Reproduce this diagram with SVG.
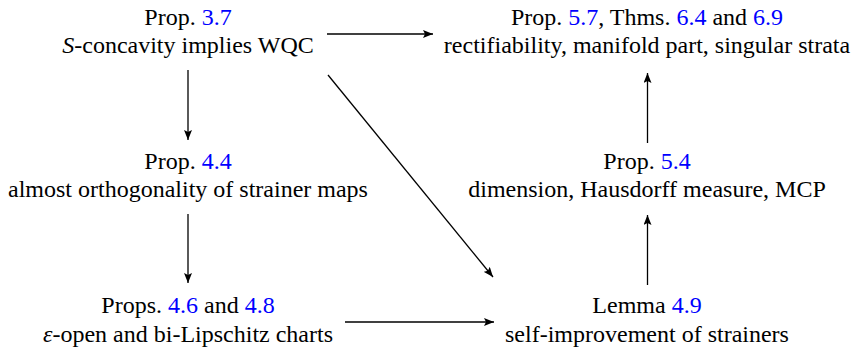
<svg xmlns="http://www.w3.org/2000/svg" width="853" height="349" viewBox="0 0 853 349">
<style>
text { font-size: 24px; fill: #000; text-anchor: middle; }
.ref { fill: #0000ff; }
.it { font-style: italic; }
.edge { stroke: #000; stroke-width: 1.3; fill: none; marker-end: url(#arr); }
</style>
<defs>
<marker id="arr" viewBox="0 0 10 8" refX="10" refY="4" markerWidth="10" markerHeight="8" markerUnits="userSpaceOnUse" orient="auto">
<path d="M0,0 L10,4 L0,8 L2,4 Z" fill="#000"/>
</marker>
</defs>
<rect width="853" height="349" fill="#fff"/>
<g font-family="Liberation Serif, Times New Roman, serif">
<g id="n37">
<text x="188" y="25">Prop. <tspan class="ref">3.7</tspan></text>
<text x="188" y="53"><tspan class="it">S</tspan>-concavity implies WQC</text>
</g>
<g id="n57">
<text x="647" y="25">Prop. <tspan class="ref">5.7</tspan>, Thms. <tspan class="ref">6.4</tspan> and <tspan class="ref">6.9</tspan></text>
<text x="647" y="53">rectifiability, manifold part, singular strata</text>
</g>
<g id="n44">
<text x="188" y="169">Prop. <tspan class="ref">4.4</tspan></text>
<text x="188" y="197">almost orthogonality of strainer maps</text>
</g>
<g id="n54">
<text x="647" y="169">Prop. <tspan class="ref">5.4</tspan></text>
<text x="647" y="197">dimension, Hausdorff measure, MCP</text>
</g>
<g id="n46">
<text x="188" y="313">Props. <tspan class="ref">4.6</tspan> and <tspan class="ref">4.8</tspan></text>
<text x="188" y="342"><tspan class="it">ε</tspan>-open and bi-Lipschitz charts</text>
</g>
<g id="n49">
<text x="647" y="313">Lemma <tspan class="ref">4.9</tspan></text>
<text x="647" y="342">self-improvement of strainers</text>
</g>
</g>
<g id="connectors">
<line class="edge" x1="327" y1="34" x2="433" y2="34"/>
<line class="edge" x1="188" y1="70" x2="188" y2="140"/>
<line class="edge" x1="328" y1="75" x2="493" y2="277"/>
<line class="edge" x1="188" y1="214" x2="188" y2="283"/>
<line class="edge" x1="345" y1="322" x2="494" y2="322"/>
<line class="edge" x1="647.5" y1="285" x2="647.5" y2="215"/>
<line class="edge" x1="647.5" y1="143" x2="647.5" y2="73"/>
</g>
</svg>
